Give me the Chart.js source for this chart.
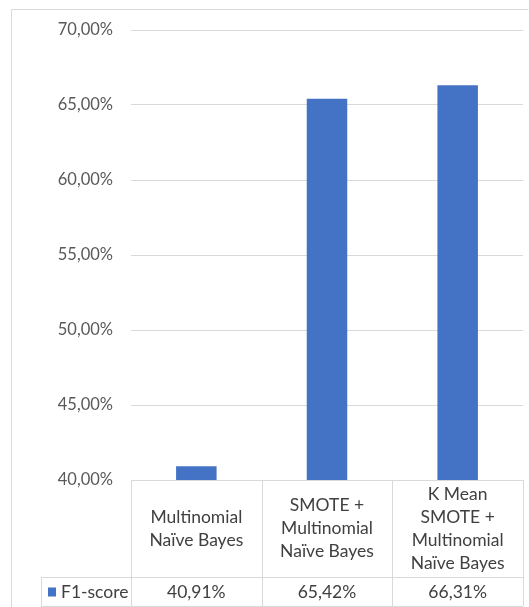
<!DOCTYPE html>
<html>
<head>
<meta charset="utf-8">
<script src="https://cdn.jsdelivr.net/npm/chart.js@4"></script>
<style>
  html, body { margin: 0; padding: 0; background: #fff; }
  #wrap { width: 529px; height: 607px; }
</style>
</head>
<body>
<div id="wrap"><canvas id="f1Chart" width="529" height="607"></canvas></div>
<script>
// categories are stored line by line, the same way they wrap in the table
const categories = [
  ["Multinomial", "Naïve Bayes"],
  ["SMOTE +", "Multinomial", "Naïve Bayes"],
  ["K Mean", "SMOTE +", "Multinomial", "Naïve Bayes"],
];
const seriesName = "F1-score";
const f1Scores = [40.91, 65.42, 66.31];
const yMin = 40;
const yMax = 70;
const yStep = 5;

const barColor = "#4472c4";
const lineColor = "#d9d9d9";
const textColor = "#404040";
const fontFamily = "Lato, 'Open Sans', sans-serif";
const tableFontSize = 17.5;
const tickFontSize = 16.5;

const pct = (v) => v.toFixed(2).replace(".", ",") + "%";

// data table under the plot area + the outer chart frame
const dataTable = {
  id: "dataTable",
  afterDraw(chart) {
    const ctx = chart.ctx;
    const area = chart.chartArea;
    const xs = chart.scales.x;
    const colW = (area.right - area.left) / categories.length;
    const headBottom = area.bottom + 97;
    const rowBottom = headBottom + 29;
    const legendLeft = 41;

    ctx.save();
    ctx.strokeStyle = lineColor;
    ctx.lineWidth = 1;

    // frame
    ctx.beginPath();
    ctx.moveTo(11.5, chart.height + 2);
    ctx.lineTo(11.5, 9.5);
    ctx.lineTo(528.5, 9.5);
    ctx.stroke();

    // table grid
    ctx.beginPath();
    ctx.moveTo(area.left, area.bottom + 0.5);
    ctx.lineTo(area.right, area.bottom + 0.5);
    ctx.moveTo(legendLeft, headBottom + 0.5);
    ctx.lineTo(area.right, headBottom + 0.5);
    ctx.moveTo(legendLeft, rowBottom + 0.5);
    ctx.lineTo(area.right, rowBottom + 0.5);
    ctx.moveTo(legendLeft + 0.5, headBottom);
    ctx.lineTo(legendLeft + 0.5, rowBottom);
    for (let i = 0; i <= categories.length; i++) {
      const x = Math.round(area.left + i * colW) + 0.5;
      ctx.moveTo(x, area.bottom);
      ctx.lineTo(x, rowBottom);
    }
    ctx.stroke();

    ctx.fillStyle = textColor;
    ctx.font = tableFontSize + "px " + fontFamily;
    ctx.textAlign = "center";
    ctx.textBaseline = "middle";
    const lineH = 23;
    const headMid = (area.bottom + headBottom) / 2;
    const rowMid = (headBottom + rowBottom) / 2 + 1;
    categories.forEach((lines, i) => {
      const cx = xs.getPixelForValue(i);
      const y0 = headMid - ((lines.length - 1) * lineH) / 2;
      lines.forEach((t, j) => ctx.fillText(t, cx, y0 + j * lineH));
      ctx.fillText(pct(f1Scores[i]), cx, rowMid);
    });

    // legend key cell
    ctx.fillStyle = barColor;
    ctx.fillRect(48, rowMid - 5, 8, 9);
    ctx.fillStyle = textColor;
    ctx.textAlign = "left";
    ctx.fillText(seriesName, 61, rowMid);
    ctx.restore();
  },
};

new Chart(document.getElementById("f1Chart"), {
  type: "bar",
  data: {
    labels: categories,
    datasets: [{
      label: seriesName,
      data: f1Scores,
      backgroundColor: barColor,
      borderWidth: 0,
      categoryPercentage: 1,
      barPercentage: 0.31,
    }],
  },
  options: {
    responsive: false,
    animation: false,
    layout: { padding: { top: 30, right: 6, bottom: 127, left: 0 } },
    plugins: { legend: { display: false }, tooltip: { enabled: false } },
    scales: {
      x: { display: false },
      y: {
        min: yMin,
        max: yMax,
        afterFit: (s) => { s.width = 131; },
        border: { display: false },
        grid: { color: lineColor, drawTicks: false },
        ticks: {
          stepSize: yStep,
          padding: 18,
          color: "#595959",
          font: { family: fontFamily, size: tickFontSize },
          callback: (v) => pct(v),
        },
      },
    },
  },
  plugins: [dataTable],
});
</script>
</body>
</html>
